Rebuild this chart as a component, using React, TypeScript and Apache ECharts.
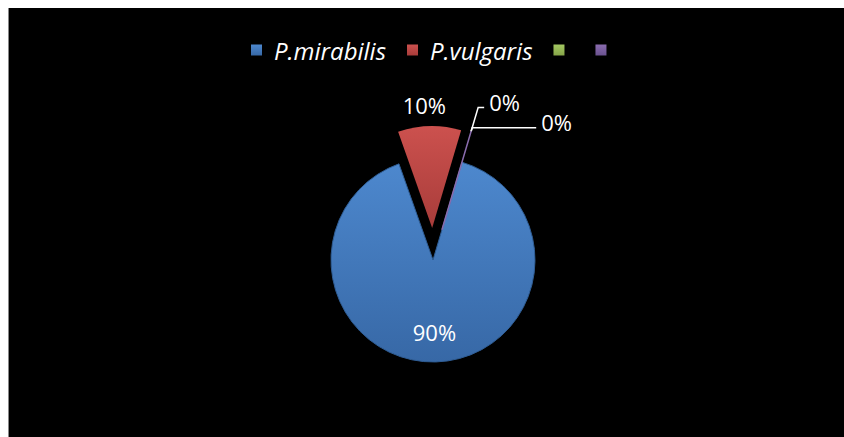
import React, { useEffect, useRef } from "react";
import * as echarts from "echarts";

const categories = ["P.mirabilis", "P.vulgaris", " ", "  "];
const values = [90, 10, 0, 0];
const topColors = ["#4d88ce", "#cc514e", "#a4c862", "#8a6cae"];
const bottomColors = ["#3768a6", "#a83c3a", "#86a548", "#6a5290"];
const exploded = [false, true, true, true];

export default function App() {
  const ref = useRef<HTMLDivElement>(null);

  useEffect(() => {
    if (!ref.current) return;
    const chart = echarts.init(ref.current, undefined, { renderer: "svg" });

    const grad = (i: number) =>
      new echarts.graphic.LinearGradient(0, 0, 0, 1, [
        { offset: 0, color: topColors[i] },
        { offset: 1, color: bottomColors[i] },
      ]);

    const labelCfg = (i: number) => {
      if (i === 0) return { position: "inside" };
      return { position: "outside" };
    };
    const lineCfg = (i: number) => {
      if (i === 0 || i === 1) return { show: false, length: 4, length2: 0 };
      if (i === 2) return { show: true, length: 25, length2: 6 };
      return { show: true, length: 4, length2: 64 };
    };

    const data = categories.map((name, i) => ({
      name,
      value: values[i],
      selected: exploded[i],
      itemStyle: {
        color: grad(i),
        borderColor: i === 3 ? "#8a6cae" : i === 0 ? "#2f5d94" : "transparent",
        borderWidth: i === 3 ? 1.5 : i === 0 ? 1 : 0,
      },
      label: labelCfg(i),
      labelLine: lineCfg(i),
    }));

    chart.setOption({
      animation: false,
      backgroundColor: "#000000",
      legend: {
        top: 25,
        left: 237,
        itemWidth: 11,
        itemHeight: 11,
        itemGap: 21,
        icon: "rect",
        data: categories.map((name, i) => ({
          name,
          itemStyle: { color: grad(i), borderWidth: 0 },
          textStyle: i === 2 ? { padding: [0, 0, 0, 1] } : undefined,
        })),
        formatter: (name: string) => (name === " " ? "\u2009" : name.trim()),
        textStyle: {
          color: "#ffffff",
          fontStyle: "italic",
          fontSize: 24,
          fontFamily: "Open Sans",
          padding: [0, 0, 0, 7],
        },
      },
      series: [
        {
          type: "pie",
          center: [424, 252],
          radius: 102,
          startAngle: 73.5,
          clockwise: true,
          selectedMode: "multiple",
          selectedOffset: 32,
          avoidLabelOverlap: false,
          emphasis: { disabled: true },
          label: {
            color: "#ffffff",
            fontSize: 22,
            fontFamily: "Open Sans",
            formatter: (p: any) => `${Math.round(p.percent)}%`,
          },
          labelLine: {
            lineStyle: { color: "#ffffff", width: 1.5 },
            smooth: false,
          },
          labelLayout: (params: any) => {
            if (params.dataIndex === 0) return { dy: 18 };
            if (params.dataIndex === 1)
              return {
                x: params.rect.x + params.rect.width / 2 + 5,
                align: "center",
                dy: -17,
              };
            return { dy: -6 };
          },
          data,
        },
      ],
    });

    return () => chart.dispose();
  }, []);

  return (
    <div
      ref={ref}
      style={{
        position: "absolute",
        left: 8,
        top: 8,
        width: 836,
        height: 429,
        borderLeft: "1px solid #888",
        boxSizing: "border-box",
      }}
    />
  );
}
